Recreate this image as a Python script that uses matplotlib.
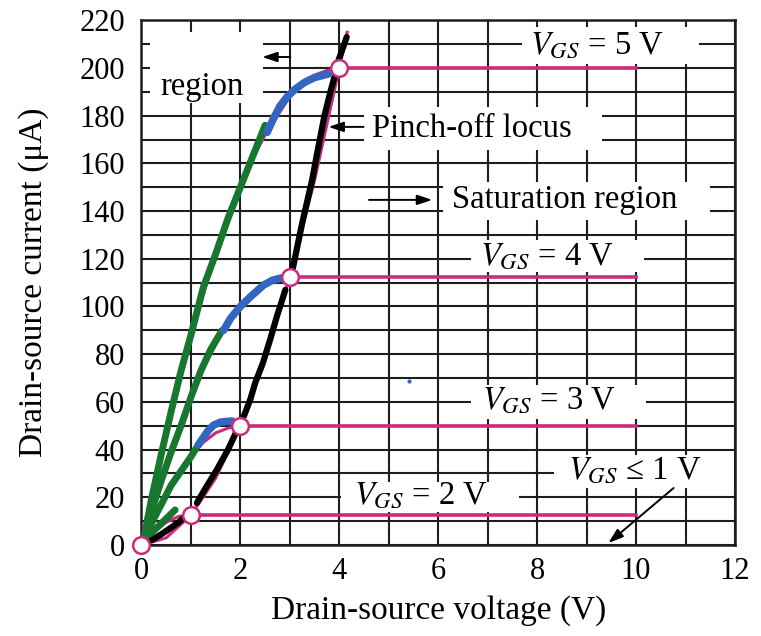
import numpy as np
import matplotlib
matplotlib.use("Agg")
import matplotlib.pyplot as plt
from matplotlib.patches import Rectangle

# saturation currents at the pinch-off points (V, uA)
v_pinch = [0, 1, 2, 3, 4]
i_pinch = [0, 12.5, 50, 112.5, 200]
v_sat_end = 10

# pink printed triode curves
tri5_v = [0, 0.25, 0.5, 0.75, 1, 1.25, 1.5, 1.75, 2, 2.25, 2.5, 2.75, 3, 3.25, 3.5, 3.75, 4]
tri5_i = [0, 24, 47, 68, 88, 105, 122, 137, 150, 162, 172, 180, 188, 193, 197, 199, 200]
tri4_v = [0, 0.25, 0.5, 0.75, 1, 1.25, 1.5, 1.75, 2, 2.25, 2.5, 2.75, 3]
tri4_i = [0, 18, 34, 49, 62, 74, 84, 93, 100, 106, 109, 112, 112.5]
tri3_v = [0, 0.25, 0.5, 0.75, 1, 1.25, 1.5, 1.75, 2]
tri3_i = [0, 12, 22, 30, 38, 43, 47, 49, 50]
tri2_v = [0, 0.25, 0.5, 0.75, 1]
tri2_i = [0, 5.5, 9.5, 12, 12.5]
locus_v = [0, 0.5, 1, 1.5, 2, 2.5, 3, 3.5, 4, 4.16]
locus_i = [0, 3, 12.5, 28, 50, 78, 112.5, 153, 200, 215]

# hand-drawn strokes on top
green = [
    ([0.05, 0.2, 0.4, 0.6, 0.8, 1.0, 1.25, 1.5, 1.75, 2.0, 2.25, 2.5],
     [3, 19, 38, 56, 73, 88, 108, 122, 137, 150, 163, 176]),
    ([0.05, 0.2, 0.4, 0.6, 0.8, 1.0, 1.2, 1.4, 1.63],
     [2, 14, 27, 39, 50, 62, 73, 82, 90]),
    ([0.05, 0.2, 0.4, 0.6, 0.8, 1.0, 1.15], [2, 9, 17, 25, 31, 37, 42]),
    ([0.1, 0.4, 0.68], [3, 9, 14.7]),
]
blue = [
    ([2.54, 2.65, 2.8, 2.95, 3.1, 3.3, 3.5, 3.78],
     [173, 178, 184, 188, 191, 194, 196, 197.5]),
    ([1.66, 1.8, 2.0, 2.2, 2.47, 2.65, 2.84], [90, 95, 100, 104, 109, 111, 112]),
    ([1.15, 1.25, 1.35, 1.46, 1.6, 1.83], [42, 45, 48, 50.3, 51.5, 52]),
]
black = [
    ([0.21, 0.4, 0.58, 0.75, 0.88], [2, 4.5, 7, 9.5, 11.9]),
    ([1.12, 1.3, 1.52, 1.75, 1.93], [17.6, 24, 31.4, 40, 48]),
    ([2.07, 2.2, 2.3, 2.45, 2.6, 2.74, 2.91], [54, 61, 68, 76, 86, 96, 107]),
    ([3.05, 3.15, 3.25, 3.35, 3.45, 3.55, 3.7, 3.82, 3.9],
     [115, 125, 135, 144, 153, 164, 180, 190, 196]),
    ([3.98, 4.15], [203, 213]),
]
stray_dot = ([5.4], [68.8])

x_ticks = [0, 2, 4, 6, 8, 10, 12]
y_ticks = list(range(0, 221, 20))

PINK = "#cc2a7c"
GREEN = "#17772f"
BLUE = "#3565c2"

plt.rcParams["font.family"] = ["Liberation Serif", "DejaVu Serif"]
plt.rcParams["mathtext.fontset"] = "stix"

fig = plt.figure(figsize=(7.61, 6.36), dpi=100)
ax = fig.add_axes([0.1859, 0.1431, 0.7799, 0.825])
ax.set_xlim(0, 12)
ax.set_ylim(0, 220)

ax.set_xticks(x_ticks)
ax.set_yticks(y_ticks)
ax.set_xticks(np.arange(0, 13, 1), minor=True)
ax.set_yticks(np.arange(0, 221, 10), minor=True)
ax.grid(True, which="both", color="#1e1e1e", lw=1.5)
ax.set_axisbelow(True)
ax.tick_params(which="both", length=0)
ax.tick_params(axis="x", labelsize=22, pad=9)
ax.tick_params(axis="y", labelsize=22, pad=12)
for s in ax.spines.values():
    s.set_linewidth(1.8)
    s.set_color("#1e1e1e")

ax.set_xlabel("Drain-source voltage (V)", fontsize=24)
ax.set_ylabel("Drain-source current (\u03bcA)", fontsize=24)
ax.xaxis.set_label_coords(0.5, -0.095)
ax.yaxis.set_label_coords(-0.155, 0.5)

# printed curves
for vv, ii in [(tri5_v, tri5_i), (tri4_v, tri4_i), (tri3_v, tri3_i),
               (tri2_v, tri2_i), (locus_v, locus_i)]:
    ax.plot(vv, ii, color=PINK, lw=2.2, zorder=2)
for v0, i0 in zip(v_pinch[1:], i_pinch[1:]):
    ax.plot([v0, v_sat_end], [i0, i0], color=PINK, lw=2.6, zorder=2)

# overlaid strokes
for vv, ii in green:
    ax.plot(vv, ii, color=GREEN, lw=5, solid_capstyle="round",
            solid_joinstyle="round", zorder=3)
for vv, ii in blue:
    ax.plot(vv, ii, color=BLUE, lw=5.5, solid_capstyle="round",
            solid_joinstyle="round", zorder=3)
for vv, ii in black:
    ax.plot(vv, ii, color="black", lw=4.5, solid_capstyle="round",
            solid_joinstyle="round", zorder=3)
ax.plot(*stray_dot, "o", color=BLUE, ms=2, zorder=3)

ax.plot(v_pinch, i_pinch, "o", ms=12, mfc="white", mec=PINK, mew=1.8,
        zorder=4, clip_on=False)

# labels with white boxes that cut the grid
def label(x, y, txt, box, size=23.5):
    x0, x1, y0, y1 = box
    ax.add_patch(Rectangle((x0, y0), x1 - x0, y1 - y0, facecolor="white",
                           edgecolor="none", zorder=1.5))
    ax.text(x, y, txt, fontsize=size, ha="left", va="baseline", zorder=5)

label(0.38, 188.7, "region", (0.17, 2.45, 185.5, 215))
label(7.85, 206, "$V_{GS}$ = 5 V", (7.7, 11.27, 201.5, 217.2))
label(4.66, 171.2, "Pinch-off locus", (4.49, 9.32, 165.6, 183.6))
label(6.28, 141.3, "Saturation region", (6.1, 11.5, 136.3, 152.2))
label(6.84, 117.4, "$V_{GS}$ = 4 V", (6.66, 10.17, 114.5, 127.9))
label(6.88, 57.4, "$V_{GS}$ = 3 V", (6.66, 10.21, 53, 67))
label(8.62, 27.7, "$V_{GS}$ \u2264 1 V", (8.35, 11.98, 23.9, 37.7))
label(4.3, 17.6, "$V_{GS}$ = 2 V", (4.03, 7.64, 13.8, 26.4))

arrow = dict(arrowstyle="-|>,head_length=0.9,head_width=0.3", color="black",
             lw=1.4, shrinkA=0, shrinkB=0)
ax.annotate("", xy=(2.44, 204.6), xytext=(3.01, 204.6), arrowprops=arrow, zorder=5)
ax.annotate("", xy=(3.78, 175.3), xytext=(4.49, 175.3), arrowprops=arrow, zorder=5)
ax.annotate("", xy=(5.88, 144.7), xytext=(4.6, 144.7), arrowprops=arrow, zorder=5)
ax.annotate("", xy=(9.44, 0.8), xytext=(10.76, 23.9), arrowprops=arrow, zorder=5)

fig.savefig("out.png", dpi=100)
